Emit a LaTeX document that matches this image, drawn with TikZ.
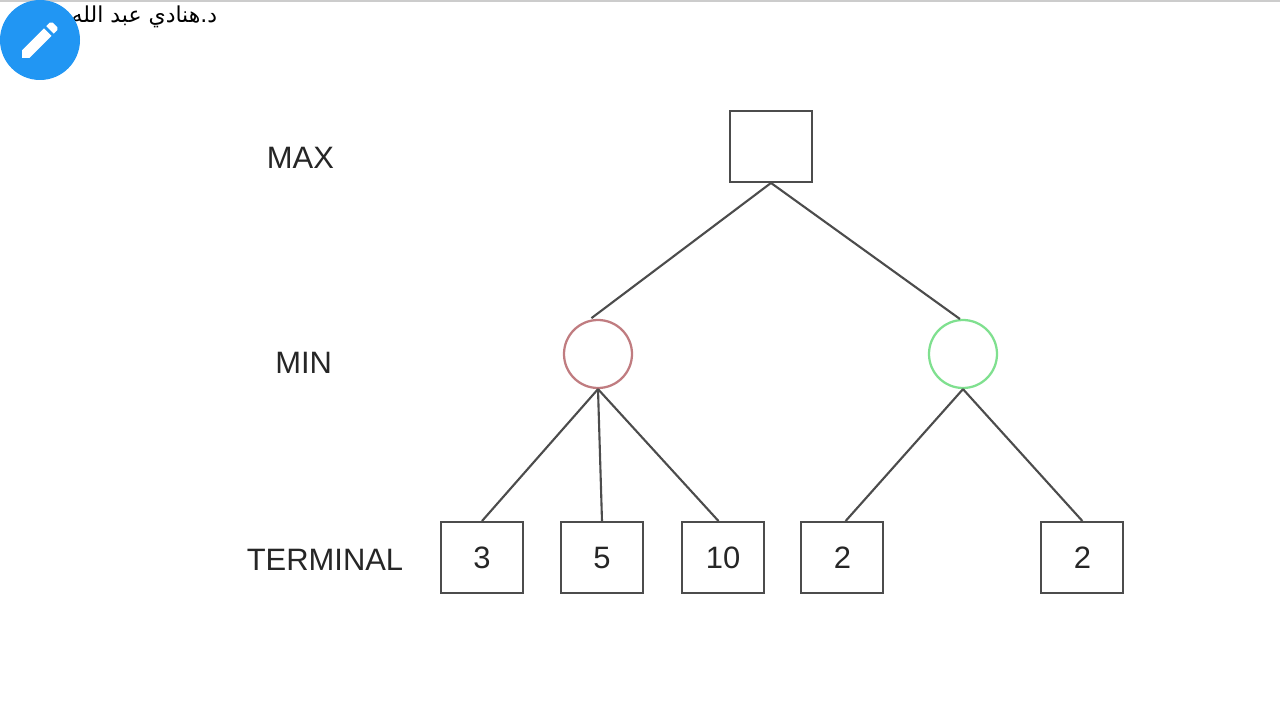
\documentclass[tikz,border=0pt]{standalone}
\usepackage{fontspec}
\setmainfont{Liberation Sans}
\newfontfamily\arabicfont[Script=Arabic]{DejaVu Sans}
\TeXXeTstate=1
\usepackage{tikz}
\usetikzlibrary{shapes.geometric}
\definecolor{darkline}{gray}{0.3}
\definecolor{badgeblue}{HTML}{2196F3}
\definecolor{redring}{HTML}{C07C80}
\definecolor{greenring}{HTML}{7FE08F}
\tikzset{
  boxnode/.style={rectangle,draw=darkline,line width=1.5pt,minimum width=2.05cm,minimum height=1.775cm,inner sep=0pt,text=black!85,font=\fontsize{22}{26}\selectfont},
  ringnode/.style={circle,line width=1.6pt,minimum size=1.7cm,inner sep=0pt},
  levelnode/.style={text=black!85,inner sep=0pt,font=\fontsize{22}{26}\selectfont},
  edge/.style={darkline,line width=1.5pt}
}
\begin{document}
\begin{tikzpicture}
\useasboundingbox (0,0) rectangle (32,18);
\fill[white] (0,0) rectangle (32,18);
\fill[gray!40] (0,17.95) rectangle (32,18);
\path (3.61,17.57) node(author)[inner sep=0pt,font=\fontsize{15.6}{18}\selectfont\arabicfont]{\beginR د.هنادي عبد الله\endR}
(1,17) node(badge)[circle,fill=badgeblue,minimum size=2cm,inner sep=0pt]{}
(19.275,14.34) node(root)[boxnode]{}
(14.95,9.15) node(minl)[ringnode,draw=redring]{}
(24.075,9.15) node(minr)[ringnode,draw=greenring]{}
(12.05,4.06) node(a)[boxnode]{3}
(15.05,4.06) node(b)[boxnode]{5}
(18.075,4.06) node(c)[boxnode]{10}
(21.06,4.06) node(d)[boxnode]{2}
(27.06,4.06) node(e)[boxnode]{2}
(7.51,14.06) node(maxlabel)[levelnode]{MAX}
(7.59,8.93) node(minlabel)[levelnode]{MIN}
(8.125,4.01) node(termlabel)[levelnode]{TERMINAL};
%pencil on the badge
\begin{scope}[shift={(0.4,17.6)},x=0.05cm,y=-0.05cm]
\fill[white] (3,17.25)--(3,21)--(6.75,21)--(17.81,9.94)--(14.06,6.19)--cycle;
\fill[white] (20.71,7.04)--(20.71,5.63)--(18.37,3.29)--(16.96,3.29)--(15.13,5.12)--(18.88,8.87)--cycle;
\end{scope}
\draw[edge,shorten >=0.08cm](root.south)--(minl.105);
\draw[edge](root.south)--(minr.95);
\draw[edge](minl.south)--(a.north);
\draw[edge](minl.south)--(b.north);
\draw[edge](minl.south)--(c.97);
\draw[edge](minr.south)--(d.85);
\draw[edge](minr.south)--(e.north);
\end{tikzpicture}
\end{document}
